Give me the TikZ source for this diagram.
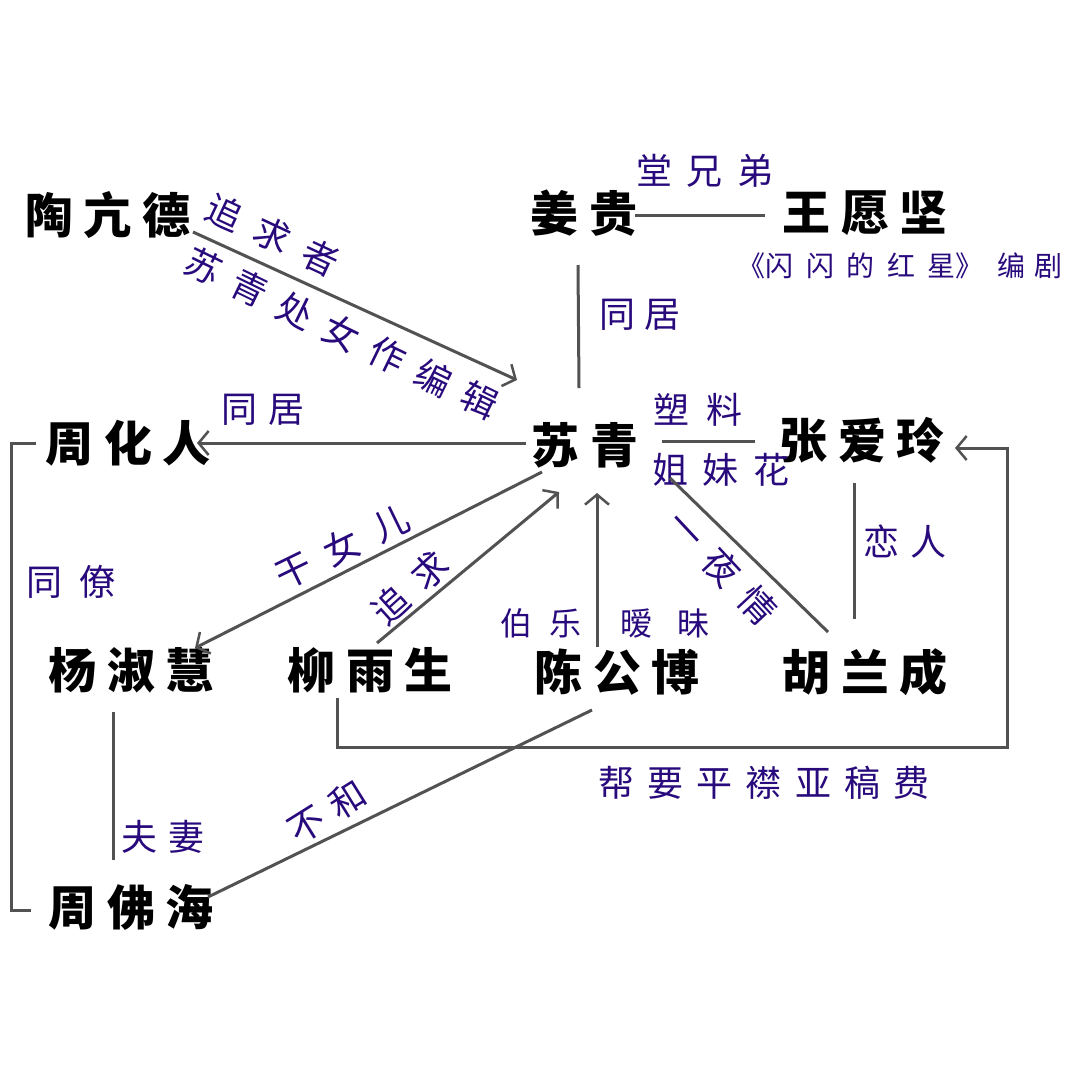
\documentclass[tikz,border=0pt]{standalone}
\usepackage{fontspec}
\usetikzlibrary{arrows.meta}
\newfontfamily\cjk{Noto Sans CJK SC}
\definecolor{lab}{RGB}{40,10,125}
\definecolor{ln}{RGB}{82,82,82}
\newcommand\g{\hspace{.22em}}
\newcommand\hh[1]{\hspace{#1em}}
\tikzset{
  person/.style={font=\cjk\bfseries\fontsize{48}{50}\selectfont, inner sep=0pt, text=black},
  lbl/.style={font=\cjk\fontsize{36}{40}\selectfont, inner sep=0pt, text=lab},
  slbl/.style={font=\cjk\fontsize{32}{36}\selectfont, inner sep=0pt, text=lab},
  tlbl/.style={font=\cjk\fontsize{28}{32}\selectfont, inner sep=0pt, text=lab},
  conn/.style={draw=ln, line width=3pt},
  arr/.style={conn, -{Straight Barb[length=10pt,width=24pt,line width=2.5pt]}},
}
\begin{document}
\begin{tikzpicture}[x=1pt,y=-1pt]
\fill[white] (0,0) rectangle (1080,1080);
\useasboundingbox (0,0) rectangle (1080,1080);

% people
\node[person] (tao)    at (108,215) {陶\g 亢\g 德};
\node[person] (jiang)  at (584,213) {姜\g 贵};
\node[person] (wang)   at (865,213) {王\g 愿\g 坚};
\node[person] (su)     at (585,445) {苏\g 青};
\node[person] (zhang)  at (862,440) {张\g 爱\g 玲};
\node[person] (zhouhr) at (128,443) {周\g 化\g 人};
\node[person] (yang)   at (131,670) {杨\g 淑\g 慧};
\node[person] (liu)    at (370,670) {柳\g 雨\g 生};
\node[person] (chen)   at (617,672) {陈\g 公\g 博};
\node[person] (hu)     at (865,672) {胡\g 兰\g 成};
\node[person] (zhoufh) at (131,907) {周\g 佛\g 海};

% labels
\node[lbl] (l1)  at (705,171) {堂\hh{.4}兄\hh{.4}弟};
\node[tlbl] (l2) at (900,266) {《闪\hh{.45}闪\hh{.45}的\hh{.45}红\hh{.45}星》\hh{.5}编\hh{.3}剧};
\node[lbl] (l3)  at (640,315) {同\hh{.25}居};
\node[lbl, rotate=-25] (l4) at (273,235) {追\hh{.47}求\hh{.47}者};
\node[lbl, rotate=-26] (l5) at (342,333) {苏\hh{.42}青\hh{.42}处\hh{.42}女\hh{.42}作\hh{.42}编\hh{.42}辑};
\node[lbl] (l6)  at (263,410) {同\hh{.3}居};
\node[lbl] (l7)  at (698,410) {塑\hh{.45}料};
\node[lbl] (l8)  at (721,470) {姐\hh{.39}妹\hh{.39}花};
\node[lbl, rotate=26] (l9) at (342,547) {干\hh{.5}女\hh{.5}儿};
\node[lbl, rotate=42] (l10) at (410,588) {追\hh{.47}求};
\node[lbl, rotate=-47] (l11) at (722,567) {一\hh{.44}夜\hh{.44}情};
\node[lbl] (l12) at (905,542) {恋\hh{.3}人};
\node[lbl] (l13) at (71,582) {同\hh{.5}僚};
\node[slbl] (l14) at (541,623) {伯\hh{.56}乐};
\node[slbl] (l15) at (665,623) {暧\hh{.8}昧};
\node[lbl] (l16) at (764,783) {帮\hh{.37}要\hh{.37}平\hh{.37}襟\hh{.37}亚\hh{.37}稿\hh{.37}费};
\node[lbl] (l17) at (163,837) {夫\hh{.3}妻};
\node[lbl, rotate=32] (l18) at (327,812) {不\hh{.35}和};

% connectors
\draw[arr] ([shift={(85,17)}]tao.center) -- ([shift={(-68,-65)}]su.center);
\draw[conn] ([shift={(51,2)}]jiang.center) -- ([shift={(-100,2)}]wang.center);
\draw[conn] ([shift={(-6,52)}]jiang.center) -- ([shift={(-6,-57)}]su.center);
\draw[conn] ([shift={(77,-4)}]su.center) -- ([shift={(-107,1)}]zhang.center);
\draw[arr] ([shift={(-59,-2)}]su.center) -- ([shift={(69,0)}]zhouhr.center);
\draw[conn] ([shift={(-92,0)}]zhouhr.center) -| ([shift={(-120,3)}]zhoufh.center) -- ([shift={(-100,3)}]zhoufh.center);
\draw[arr] ([shift={(-43,27)}]su.center) -- ([shift={(64,-22)}]yang.center);
\draw[arr] ([shift={(7,-27)}]liu.center) -- ([shift={(-26,47)}]su.center);
\draw[arr] ([shift={(-20,-25)}]chen.center) -- ([shift={(12,48)}]su.center);
\draw[conn] ([shift={(85,33)}]su.center) -- ([shift={(-37,-40)}]hu.center);
\draw[conn] ([shift={(-8,43)}]zhang.center) -- ([shift={(-11,-53)}]hu.center);
\draw[arr] ([shift={(-33,28)}]liu.center) |- ([shift={(142,75)}]hu.center) |- ([shift={(93,8)}]zhang.center);
\draw[conn] ([shift={(-18,42)}]yang.center) -- ([shift={(-18,-47)}]zhoufh.center);
\draw[conn] ([shift={(-25,38)}]chen.center) -- ([shift={(77,-10)}]zhoufh.center);
\end{tikzpicture}
\end{document}
